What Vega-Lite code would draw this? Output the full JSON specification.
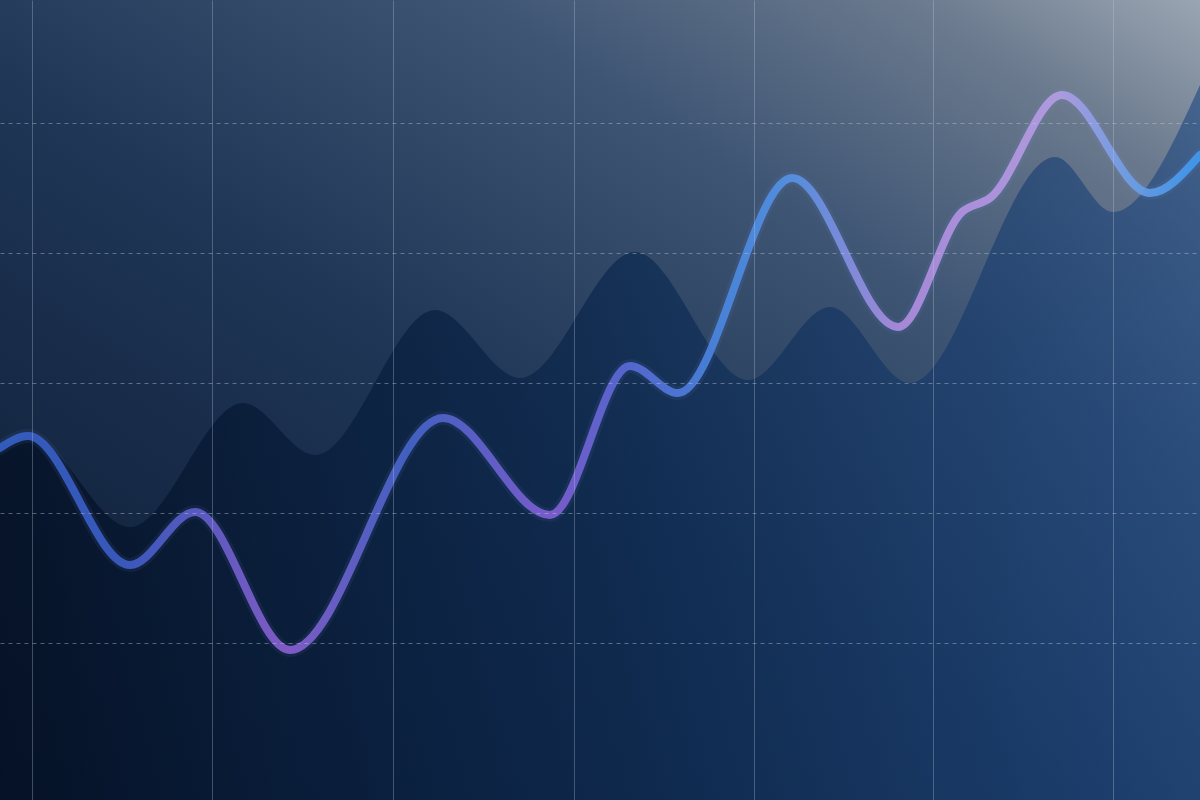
{
  "$schema": "https://vega.github.io/schema/vega-lite/v6.json",
  "width": 1200,
  "height": 800,
  "padding": 0,
  "autosize": {"type": "none"},
  "background": "#0c1a2e",
  "config": {
    "view": {
      "stroke": null,
      "fill": {
        "gradient": "linear",
        "x1": 0, "y1": 1, "x2": 1, "y2": 0,
        "stops": [
          {"offset": 0, "color": "#0a1830"},
          {"offset": 0.45, "color": "#1f3656"},
          {"offset": 0.7, "color": "#3e5574"},
          {"offset": 0.88, "color": "#6b7a8e"},
          {"offset": 1, "color": "#9aa5b2"}
        ]
      }
    }
  },
  "datasets": {
    "area": [
      {"x": 0, "y": 352}, {"x": 30, "y": 363}, {"x": 130, "y": 273}, {"x": 243, "y": 397},
      {"x": 315, "y": 345}, {"x": 435, "y": 490}, {"x": 520, "y": 422}, {"x": 635, "y": 548},
      {"x": 748, "y": 420}, {"x": 830, "y": 493}, {"x": 910, "y": 417}, {"x": 1055, "y": 643},
      {"x": 1113, "y": 588}, {"x": 1200, "y": 715}
    ],
    "line": [
      {"x": 0, "y": 352}, {"x": 28, "y": 364}, {"x": 130, "y": 235}, {"x": 195, "y": 288},
      {"x": 290, "y": 150}, {"x": 443, "y": 382}, {"x": 550, "y": 285}, {"x": 630, "y": 434},
      {"x": 678, "y": 407}, {"x": 792, "y": 622}, {"x": 898, "y": 473}, {"x": 962, "y": 588},
      {"x": 990, "y": 602}, {"x": 1062, "y": 705}, {"x": 1150, "y": 607}, {"x": 1200, "y": 645}
    ]
  },
  "encoding": {
    "x": {
      "field": "x", "type": "quantitative",
      "scale": {"domain": [0, 1200], "nice": false, "zero": false},
      "axis": {
        "title": null, "labels": false, "ticks": false, "domain": false,
        "values": [32, 212, 393, 574, 754, 933, 1113],
        "grid": true, "gridColor": "#c8d2e0", "gridOpacity": 0.3, "gridWidth": 1, "zindex": 1
      }
    },
    "y": {
      "field": "y", "type": "quantitative",
      "scale": {"domain": [0, 800], "nice": false, "zero": false},
      "axis": {
        "title": null, "labels": false, "ticks": false, "domain": false,
        "values": [157, 287, 417, 547, 677],
        "grid": true, "gridColor": "#c8d2e0", "gridOpacity": 0.4, "gridWidth": 1, "gridDash": [4, 4], "zindex": 1
      }
    }
  },
  "layer": [
    {
      "data": {"name": "area"},
      "mark": {
        "type": "area",
        "interpolate": "monotone",
        "clip": true,
        "fill": {
          "gradient": "linear",
          "x1": 0, "y1": 0, "x2": 1, "y2": 0,
          "stops": [
            {"offset": 0, "color": "rgba(4,16,36,0.8)"},
            {"offset": 0.5, "color": "rgba(10,38,76,0.7)"},
            {"offset": 1, "color": "rgba(28,70,128,0.6)"}
          ]
        }
      }
    },
    {
      "data": {"name": "line"},
      "mark": {
        "type": "line",
        "interpolate": "monotone",
        "clip": true,
        "strokeWidth": 14,
        "opacity": 0.08,
        "strokeCap": "round",
        "stroke": "#7a9cf5"
      }
    },
    {
      "data": {"name": "line"},
      "mark": {
        "type": "line",
        "interpolate": "monotone",
        "clip": true,
        "strokeWidth": 8,
        "opacity": 0.9,
        "strokeCap": "round",
        "stroke": {
          "gradient": "linear",
          "x1": 0, "y1": 0, "x2": 1, "y2": 0,
          "stops": [
            {"offset": 0, "color": "#3561c8"},
            {"offset": 0.1, "color": "#3c5ec8"},
            {"offset": 0.24, "color": "#8c60d2"},
            {"offset": 0.34, "color": "#4566cc"},
            {"offset": 0.46, "color": "#8460d6"},
            {"offset": 0.52, "color": "#5a6ad8"},
            {"offset": 0.6, "color": "#4a88e2"},
            {"offset": 0.66, "color": "#5593e6"},
            {"offset": 0.75, "color": "#b08de0"},
            {"offset": 0.88, "color": "#b79de6"},
            {"offset": 0.94, "color": "#6fa0e8"},
            {"offset": 1, "color": "#3d9af2"}
          ]
        }
      }
    }
  ]
}
